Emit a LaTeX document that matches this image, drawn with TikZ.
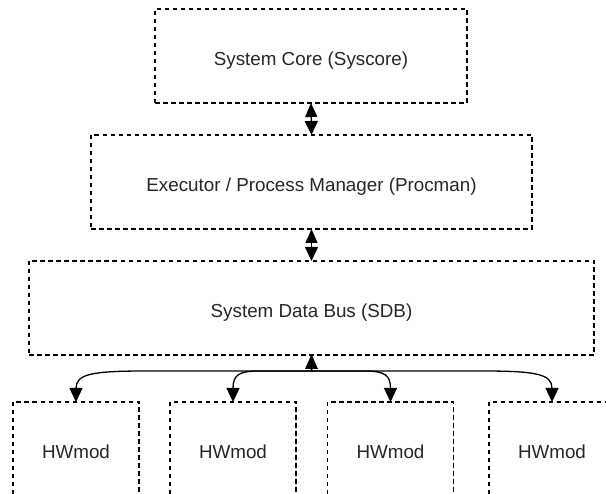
\documentclass[tikz,border=0pt]{standalone}
\usepackage{fontspec}
\setmainfont{Liberation Sans}
\usetikzlibrary{arrows.meta,calc}
\begin{document}
\begin{tikzpicture}[x=1pt,y=-1pt,
  box/.style={draw=black, line width=1.3pt, dash pattern=on 4.5pt off 3.5pt,
    inner sep=0pt, outer sep=0pt, font=\fontsize{18.8}{22}\selectfont, text=black!85,
    text height=22.5pt, text depth=4pt},
  lbl/.style={font=\fontsize{18.8}{22}\selectfont, text=black!85},
  link/.style={line width=1.3pt, {Triangle[length=14pt,width=12pt]}-{Triangle[length=14pt,width=13pt]}}
]
\clip (0,0) rectangle (606,494);
\useasboundingbox (0,0) rectangle (606,494);
\node[box, minimum width=312pt, minimum height=94pt] (core) at (311,56) {System Core (Syscore)};
\node[box, minimum width=441pt, minimum height=94pt] (proc) at (311.5,182) {Executor / Process Manager (Procman)};
\node[box, minimum width=565pt, minimum height=94pt] (sdb) at (311.5,308) {System Data Bus (SDB)};
\node[box, minimum width=126pt, minimum height=100pt, anchor=north] (hw1) at (76,402) {};
\node[box, minimum width=126pt, minimum height=100pt, anchor=north] (hw2) at (233,402) {};
\node[box, minimum width=126pt, minimum height=100pt, anchor=north] (hw3) at (390.5,402) {};
\node[box, minimum width=126pt, minimum height=100pt, anchor=north] (hw4) at (552,402) {};
\node[lbl] (t1) at (76,452) {HWmod};
\node[lbl] (t2) at (233,452) {HWmod};
\node[lbl] (t3) at (390.5,452) {HWmod};
\node[lbl] (t4) at (552,452) {HWmod};
\draw[link] (core.south) -- (proc.north);
\draw[link] (proc.south) -- (sdb.north);
\coordinate (bus) at (311.5,371);
\draw[link] (sdb.south) -- (bus) -- ($(hw1.north |- bus)+(70,0)$) .. controls ($(hw1.north |- bus)+(16,0)$) and ($(hw1.north |- bus)+(0,3)$) .. (hw1.north);
\draw[link] (sdb.south) -- (bus) -- ($(hw2.north |- bus)+(26,0)$) .. controls ($(hw2.north |- bus)+(6,0)$) and ($(hw2.north |- bus)+(0,4)$) .. (hw2.north);
\draw[link] (sdb.south) -- (bus) -- ($(hw3.north |- bus)+(-26,0)$) .. controls ($(hw3.north |- bus)+(-6,0)$) and ($(hw3.north |- bus)+(0,4)$) .. (hw3.north);
\draw[link] (sdb.south) -- (bus) -- ($(hw4.north |- bus)+(-70,0)$) .. controls ($(hw4.north |- bus)+(-16,0)$) and ($(hw4.north |- bus)+(0,3)$) .. (hw4.north);
\end{tikzpicture}
\end{document}
